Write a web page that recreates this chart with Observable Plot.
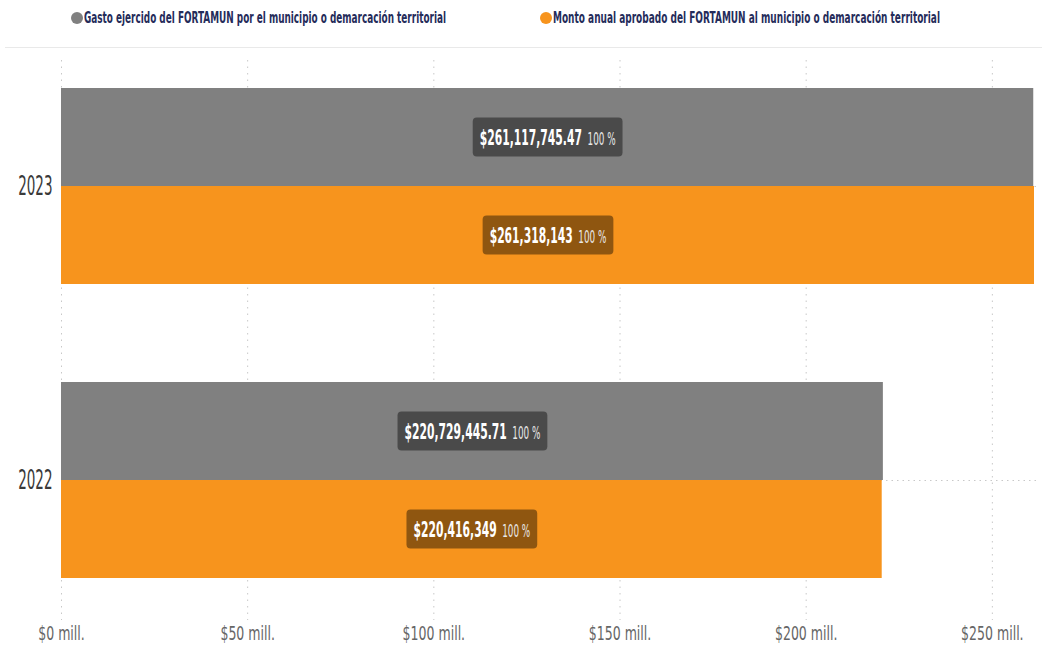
<!DOCTYPE html>
<html>
<head>
<meta charset="utf-8">
<script src="https://cdn.jsdelivr.net/npm/d3@7"></script>
<script src="https://cdn.jsdelivr.net/npm/@observablehq/plot@0.6"></script>
<style>
  body { margin: 0; background: #fff; }
  #wrap { position: relative; width: 1042px; height: 656px; overflow: hidden; font-family: "DejaVu Sans", sans-serif; }
  #legend { position: absolute; left: 0; top: 0; width: 1042px; height: 50px; }
  .item { position: absolute; top: 9px; height: 18px; white-space: nowrap; }
  .dot { position: absolute; left: 0; top: 3px; width: 12px; height: 12px; border-radius: 50%; }
  .txt { position: absolute; left: 13px; top: 0; font-size: 15px; font-weight: bold; color: #252c5a;
    transform-origin: 0 50%; display: inline-block; line-height: 18px; }
  #sep { position: absolute; left: 5px; right: 0; top: 47px; height: 1px; background: #e9e9e9; }
  #chart { position: absolute; left: 0; top: 50px; }
</style>
</head>
<body>
<div id="wrap">
  <div id="legend"></div>
  <div id="sep"></div>
  <div id="chart"></div>
</div>
<script>
const years = ["2023", "2022"];
const seriesNames = [
  "Gasto ejercido del FORTAMUN por el municipio o demarcación territorial",
  "Monto anual aprobado del FORTAMUN al municipio o demarcación territorial"
];
const seriesColors = ["#808080", "#f7941d"];
const gasto = [261117745.47, 220729445.71];
const monto = [261318143, 220416349];
const percents = ["100 %", "100 %", "100 %", "100 %"];
const xTicks = [0, 50e6, 100e6, 150e6, 200e6, 250e6];

// legend (HTML above the SVG)
const legend = document.getElementById("legend");
const legendLeft = [71, 540];
const legendTextWidth = [362, 387];
seriesNames.forEach((name, i) => {
  const d = document.createElement("div");
  d.className = "item";
  d.style.left = legendLeft[i] + "px";
  const dot = document.createElement("span");
  dot.className = "dot";
  dot.style.background = seriesColors[i];
  const t = document.createElement("span");
  t.className = "txt";
  t.textContent = name;
  d.appendChild(dot); d.appendChild(t);
  legend.appendChild(d);
  const w = t.getBoundingClientRect().width;
  t.style.transform = `scaleX(${legendTextWidth[i] / w})`;
});

const fmtG = v => "$" + d3.format(",.2f")(v);
const fmtM = v => "$" + d3.format(",")(v);

const rows = [];
years.forEach((y, i) => {
  rows.push({key: y + "|g", value: gasto[i], series: seriesNames[0], label: fmtG(gasto[i]), pct: percents[i * 2]});
  rows.push({key: y + "|m", value: monto[i], series: seriesNames[1], label: fmtM(monto[i]), pct: percents[i * 2 + 1]});
});
const yDomain = ["2023|g", "2023|m", "_gap", "2022|g", "2022|m"];
const yearKeys = years.map(y => y + "|g");

const plot = Plot.plot({
  width: 1042,
  height: 606,
  marginLeft: 61,
  marginRight: 8,
  marginTop: 38,
  marginBottom: 78,
  style: {fontFamily: '"DejaVu Sans", sans-serif', background: "transparent", overflow: "visible"},
  x: {domain: [0, 261318143], axis: null},
  y: {domain: yDomain, padding: 0, axis: null},
  color: {domain: seriesNames, range: seriesColors},
  marks: [
    Plot.ruleX(xTicks, {x: d => d, stroke: "#c8c8c8", strokeDasharray: "1.5,5", insetTop: -28, insetBottom: -42}),
    Plot.ruleY(yearKeys, {y: d => d, dy: 49, stroke: "#c8c8c8", strokeDasharray: "1.5,4", insetRight: -6}),
    Plot.barX(rows, {x: "value", y: "key", fill: "series"}),
    Plot.text(rows, {x: d => d.value / 2, y: "key", text: "label", fill: "white",
      fontSize: 22, fontWeight: "bold", ariaDescription: "etiquetas"}),
    Plot.axisX(xTicks, {tickSize: 0, tickPadding: 48, fontSize: 19, color: "#666", label: null,
      tickFormat: d => `$${d / 1e6} mill.`, ariaDescription: "ticksx"}),
    Plot.axisY(yearKeys, {tickSize: 0, tickPadding: 9, dy: 49, fontSize: 27, color: "#3a3a3a", label: null,
      tickFormat: d => d.slice(0, 4), ariaDescription: "ticksy"})
  ]
});
document.getElementById("chart").appendChild(plot);

const NS = "http://www.w3.org/2000/svg";
// condense a text horizontally around its anchor by wrapping it in a group
function squish(t, s, anchor) {
  const g = document.createElementNS(NS, "g");
  t.parentNode.insertBefore(g, t);
  g.appendChild(t);
  const bb = g.getBBox();
  const ax = anchor === "end" ? bb.x + bb.width : anchor === "start" ? bb.x : bb.x + bb.width / 2;
  g.setAttribute("transform", `translate(${ax},0) scale(${s},1) translate(${-ax},0)`);
  return g;
}
plot.querySelectorAll('g[aria-description="ticksx"] text').forEach(t => squish(t, 0.66, "middle"));
plot.querySelectorAll('g[aria-description="ticksy"] text').forEach(t => squish(t, 0.5, "end"));

// value labels with boxes
const SL = 0.49;
const texts = plot.querySelectorAll('g[aria-description="etiquetas"] text');
texts.forEach((t, i) => {
  const r = rows[i];
  t.textContent = "";
  const a = document.createElementNS(NS, "tspan");
  a.textContent = r.label;
  const b = document.createElementNS(NS, "tspan");
  b.textContent = "  " + r.pct;
  b.setAttribute("font-size", 18);
  b.setAttribute("font-weight", "normal");
  b.setAttribute("fill", "#e8e8e8");
  t.appendChild(a); t.appendChild(b);
  const g = squish(t, SL, "middle");
  const bb = g.getBBox();
  const cy = bb.y + bb.height / 2;
  const rect = document.createElementNS(NS, "rect");
  rect.setAttribute("x", bb.x - 7 / SL);
  rect.setAttribute("y", cy - 19.5);
  rect.setAttribute("width", bb.width + 14 / SL);
  rect.setAttribute("height", 39);
  rect.setAttribute("rx", 4 / SL);
  rect.setAttribute("ry", 4);
  rect.setAttribute("fill", "rgba(0,0,0,0.42)");
  g.insertBefore(rect, t);
});
</script>
</body>
</html>
